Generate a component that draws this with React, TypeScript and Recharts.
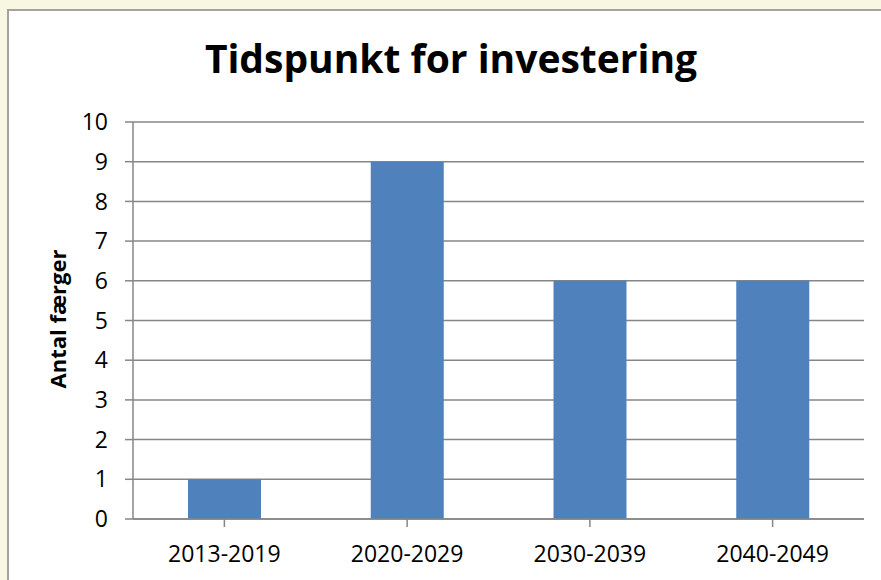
import { BarChart, Bar, XAxis, YAxis, CartesianGrid } from 'recharts';

const categories = ['2013-2019', '2020-2029', '2030-2039', '2040-2049'];
const counts = [1, 9, 6, 6];
const yTicks = [0, 1, 2, 3, 4, 5, 6, 7, 8, 9, 10];

const data = categories.map((name, i) => ({ name, value: counts[i] }));

const FONT = '"Open Sans", sans-serif';
const GRAY = '#868686';

export default function App() {
  return (
    <div
      style={{
        position: 'absolute',
        left: 0,
        top: 0,
        width: 881,
        height: 580,
        background: '#f8f8e2',
        overflow: 'hidden',
        fontFamily: FONT,
      }}
    >
      <div
        style={{
          position: 'absolute',
          left: 7,
          top: 9,
          width: 900,
          height: 600,
          background: '#fff',
          border: '2px solid #a3a3a3',
        }}
      />
      <div style={{ position: 'absolute', left: 0, top: 0 }}>
        <BarChart
          width={881}
          height={580}
          data={data}
          margin={{ top: 122, right: 17, bottom: 21, left: 73 }}
          barSize={73}
        >
          <CartesianGrid vertical={false} stroke={GRAY} strokeWidth={1.5} />
          <XAxis
            dataKey="name"
            height={40}
            stroke={GRAY}
            strokeWidth={1.5}
            tickSize={8}
            tickMargin={19}
            tick={{ fill: '#000', fontSize: 23, fontFamily: FONT }}
          />
          <YAxis
            width={60}
            domain={[0, 10]}
            ticks={yTicks}
            interval={0}
            stroke={GRAY}
            strokeWidth={1.5}
            tickSize={8}
            tickMargin={17}
            tick={{ fill: '#000', fontSize: 23, fontFamily: FONT }}
          />
          <Bar dataKey="value" fill="#4f81bd" isAnimationActive={false} />
        </BarChart>
      </div>
      <svg
        width={881}
        height={580}
        style={{ position: 'absolute', left: 0, top: 0, pointerEvents: 'none' }}
      >
        <text
          x={451}
          y={73}
          textAnchor="middle"
          fontSize={39}
          fontWeight={700}
          fontFamily={FONT}
          fill="#000"
        >
          Tidspunkt for investering
        </text>
        <text
          transform="translate(66,319) rotate(-90)"
          textAnchor="middle"
          fontSize={22}
          fontWeight={700}
          fontFamily={FONT}
          fill="#000"
        >
          Antal færger
        </text>
      </svg>
    </div>
  );
}
